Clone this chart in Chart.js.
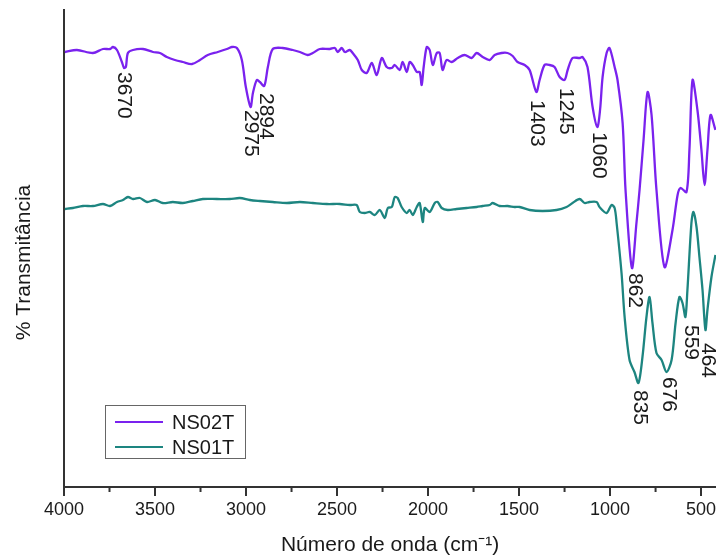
<!DOCTYPE html>
<html><head><meta charset="utf-8">
<script src="https://cdn.jsdelivr.net/npm/chart.js@4.4.1/dist/chart.umd.min.js"></script>
<style>html,body{margin:0;padding:0;background:#fff}#wrap{width:716px;height:560px;position:relative}</style>
</head><body><div id="wrap"><canvas id="c" width="716" height="560"></canvas></div>
<script>
const seriesNames = ['NS02T', 'NS01T'];
const seriesColors = ['#7a22ee', '#1d8580'];

const ns02tWavenumber = [3995,3929,3841,3786,3747,3731,3709,3682,3670,3660,
 3649,3621,3566,3511,3473,3435,3391,3347,3297,3253,
 3210,3155,3105,3078,3050,3023,3001,2975,2962,2941,
 2924,2900,2880,2853,2798,2743,2704,2661,2633,2595,
 2540,2512,2496,2474,2457,2430,2414,2386,2364,2337,
 2309,2282,2254,2227,2199,2183,2156,2139,2117,2101,
 2084,2062,2046,2035,2024,2007,1991,1974,1952,1936,
 1920,1898,1870,1837,1799,1760,1733,1700,1661,1634,
 1596,1563,1535,1508,1469,1442,1405,1387,1360,1332,
 1305,1277,1250,1233,1206,1167,1151,1124,1096,1070,
 1055,1041,1019,1003,975,959,931,915,880,855,
 838,816,794,772,745,701,657,629,613,580,
 564,547,520,498,481,465,448,421];
const ns02tTransmittance = [87.0,87.4,86.8,87.6,87.6,88.0,87.4,85.0,83.8,84.0,
 86.8,87.4,87.6,87.0,86.8,86.0,85.4,85.0,84.6,85.4,
 86.4,87.0,87.6,88.0,87.8,85.4,80.0,76.0,78.8,81.4,
 81.0,80.2,84.0,87.6,87.8,87.4,87.0,86.4,86.8,87.6,
 87.6,87.8,87.0,87.8,87.0,87.4,86.8,85.4,83.4,82.8,
 84.8,82.4,85.8,84.0,83.8,84.4,83.4,85.0,83.0,85.0,
 84.4,83.0,83.0,80.4,84.0,88.0,87.4,84.4,86.8,86.8,
 83.4,85.4,85.0,85.8,86.4,85.8,86.8,86.0,85.4,86.4,
 86.8,86.8,86.2,85.0,84.4,83.4,79.0,81.4,84.4,84.4,
 84.0,82.0,81.4,83.4,85.8,85.8,86.0,84.0,76.0,72.0,
 75.4,82.0,86.8,87.8,84.0,81.4,72.8,59.4,43.8,52.8,
 59.4,69.4,79.0,74.4,59.4,44.0,51.4,58.4,59.8,59.0,
 67.4,81.4,75.4,67.4,60.4,67.4,74.4,71.4];

const ns01tWavenumber = [3995,3951,3896,3841,3786,3747,3709,3676,3649,3621,
 3583,3544,3500,3457,3402,3347,3292,3237,3160,3089,
 3034,2979,2924,2853,2776,2704,2633,2556,2485,2430,
 2392,2375,2348,2320,2293,2265,2238,2221,2199,2183,
 2167,2145,2117,2101,2084,2062,2046,2029,2018,1991,
 1963,1947,1925,1892,1843,1788,1733,1700,1661,1645,
 1607,1563,1524,1497,1442,1371,1294,1239,1206,1167,
 1140,1113,1074,1058,1019,992,975,964,937,920,
 893,866,844,822,800,783,767,745,717,690,
 662,640,619,602,586,575,553,542,525,509,
 492,476,465,443,421];
const ns01tTransmittance = [55.6,55.8,56.2,56.2,56.6,56.2,57.0,57.4,58.0,57.6,
 57.8,57.0,57.4,56.8,57.0,56.8,57.2,57.6,57.6,57.6,
 57.8,57.4,57.2,57.0,56.8,57.0,56.8,56.6,56.6,56.4,
 56.4,55.0,54.8,55.0,54.4,55.4,53.8,55.8,56.0,58.0,
 57.8,56.0,54.8,55.4,54.4,56.0,56.8,53.0,55.8,55.0,
 56.8,57.0,55.8,55.4,55.6,55.8,56.0,56.2,56.4,56.8,
 56.2,56.2,56.0,56.0,55.4,55.2,55.4,56.0,56.8,57.6,
 56.8,57.0,57.0,56.0,54.8,56.4,55.8,52.8,42.8,34.0,
 25.4,23.0,20.8,26.0,34.0,38.0,32.8,26.8,25.4,23.0,
 25.4,32.8,38.0,36.8,34.0,39.4,52.8,55.0,52.0,46.0,
 39.4,31.4,35.4,42.0,46.4];

const xMajorTicks = [4000,3500,3000,2500,2000,1500,1000,500];
const xMinorTicks = [3750,3250,2750,2250,1750,1250,750];
const peakLabels = [3670,2975,2894,1403,1245,1060,862,835,676,559,464];
const peakLabelTop = [83.0,75.4,78.8,77.4,79.8,71.0,42.8,19.4,22.0,32.4,28.8];

const xTitle = 'Número de onda (cm\u207B\u00B9)';
const yTitle = '% Transmitância';
const FONT = "'Liberation Sans', Arial, sans-serif";
const AXIS_COLOR = '#333333';

function toPoints(xs, ys) { return xs.map((x, i) => ({ x: x, y: ys[i] })); }

const annotatePlugin = {
  id: 'annotate',
  afterDatasetsDraw(chart) {
    const ctx = chart.ctx, xs = chart.scales.x, ys = chart.scales.y;
    ctx.save();
    ctx.fillStyle = '#1a1a1a';
    ctx.font = '21px ' + FONT;
    ctx.textAlign = 'left';
    ctx.textBaseline = 'middle';
    peakLabels.forEach((p, i) => {
      ctx.save();
      ctx.translate(xs.getPixelForValue(p), ys.getPixelForValue(peakLabelTop[i]));
      ctx.rotate(Math.PI / 2);
      ctx.fillText(String(p), 0, 0);
      ctx.restore();
    });
    ctx.restore();
  },
  afterDraw(chart) {
    const ctx = chart.ctx, xs = chart.scales.x, area = chart.chartArea;
    ctx.save();
    ctx.strokeStyle = AXIS_COLOR;
    ctx.lineWidth = 2;
    xMinorTicks.forEach(v => {
      const px = xs.getPixelForValue(v);
      ctx.beginPath();
      ctx.moveTo(px, area.bottom);
      ctx.lineTo(px, area.bottom + 5);
      ctx.stroke();
    });
    ctx.fillStyle = '#1a1a1a';
    ctx.font = '21px ' + FONT;
    ctx.textAlign = 'center';
    ctx.textBaseline = 'middle';
    ctx.translate(24, (area.top + area.bottom) / 2 + 14);
    ctx.rotate(-Math.PI / 2);
    ctx.fillText(yTitle, 0, 0);
    ctx.restore();
    ctx.save();
    const bx = area.left + 41, by = area.bottom - 82, bw = 140, bh = 53;
    ctx.fillStyle = '#ffffff';
    ctx.fillRect(bx, by, bw, bh);
    ctx.strokeStyle = '#666666';
    ctx.lineWidth = 1;
    ctx.strokeRect(bx + 0.5, by + 0.5, bw, bh);
    ctx.font = '20px ' + FONT;
    ctx.textAlign = 'left';
    ctx.textBaseline = 'middle';
    chart.data.datasets.forEach((ds, i) => {
      const ly = by + 17 + i * 25;
      ctx.strokeStyle = ds.borderColor;
      ctx.lineWidth = 2.2;
      ctx.beginPath();
      ctx.moveTo(bx + 10, ly);
      ctx.lineTo(bx + 58, ly);
      ctx.stroke();
      ctx.fillStyle = '#1a1a1a';
      ctx.fillText(ds.label, bx + 67, ly + 1);
    });
    ctx.restore();
  }
};

new Chart(document.getElementById('c'), {
  type: 'line',
  data: {
    datasets: [
      { label: seriesNames[0], data: toPoints(ns02tWavenumber, ns02tTransmittance),
        borderColor: seriesColors[0], borderWidth: 2.3, pointRadius: 0, tension: 0.3, fill: false },
      { label: seriesNames[1], data: toPoints(ns01tWavenumber, ns01tTransmittance),
        borderColor: seriesColors[1], borderWidth: 2.3, pointRadius: 0, tension: 0.3, fill: false }
    ]
  },
  options: {
    responsive: false,
    animation: false,
    devicePixelRatio: 1,
    layout: { padding: { top: 10, right: 0, left: 0, bottom: 0 } },
    plugins: { legend: { display: false }, tooltip: { enabled: false } },
    scales: {
      x: {
        type: 'linear',
        reverse: true,
        min: 418,
        max: 4000,
        afterBuildTicks: s => { s.ticks = xMajorTicks.map(v => ({ value: v })); },
        afterFit: s => { s.height = 73; s.paddingLeft = 0; s.paddingRight = 0; },
        ticks: { color: '#1a1a1a', font: { family: FONT, size: 18 }, padding: 3,
                 maxRotation: 0, autoSkip: false, callback: v => String(v) },
        grid: { display: true, drawOnChartArea: false, drawTicks: true, tickLength: 9,
                color: AXIS_COLOR, lineWidth: 2 },
        border: { display: true, color: AXIS_COLOR, width: 2 },
        title: { display: true, text: xTitle, color: '#1a1a1a',
                 font: { family: FONT, size: 21 }, padding: { top: 0, bottom: 2 } }
      },
      y: {
        type: 'linear',
        min: 0,
        max: 95.4,
        afterFit: s => { s.width = 64; },
        ticks: { display: false },
        grid: { display: false, drawTicks: false },
        border: { display: true, color: AXIS_COLOR, width: 2 }
      }
    }
  },
  plugins: [annotatePlugin]
});
</script>
</body></html>
